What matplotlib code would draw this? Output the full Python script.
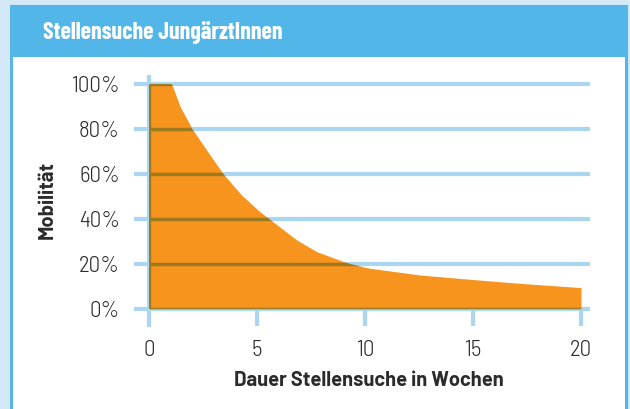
import matplotlib
matplotlib.use("Agg")
import matplotlib.pyplot as plt
from matplotlib.patches import Rectangle

# Data
weeks = [0, 1.05, 1.44, 2.0, 2.75, 3.44, 4.3, 5.14, 5.57, 6.84, 7.76, 9.31, 10.23,
         12.55, 14.86, 17.18, 20]
mobility = [100, 100, 90, 80, 69.5, 60, 50.5, 43.2, 40, 30.7, 25.5, 20, 18.1,
            15.1, 13.2, 11.4, 9.5]
x_ticks = [0, 5, 10, 15, 20]
y_ticks = [0, 20, 40, 60, 80, 100]
y_labels = ["0%", "20%", "40%", "60%", "80%", "100%"]
title = "Stellensuche JungärztInnen"
x_label = "Dauer Stellensuche in Wochen"
y_label = "Mobilität"

W, H = 630, 409
BG = "#d4e9f8"
BAR = "#52b7e8"
GRID = "#aad6f2"
ORANGE = "#f7941d"
DARK = "#9e7a1f"
TXT = "#2b2b2b"

fig = plt.figure(figsize=(W / 100, H / 100), dpi=100, facecolor=BG)

def px_rect(x0, y0, x1, y1, color, z):
    fig.patches.append(Rectangle((x0 / W, 1 - y1 / H), (x1 - x0) / W, (y1 - y0) / H,
                                 transform=fig.transFigure, facecolor=color,
                                 edgecolor="none", zorder=z))

px_rect(10, 5, 628, 409, BAR, -2)
px_rect(13, 57, 625, 409, "white", -1)

fig.text(43 / W, 1 - 32 / H, title, color="white", fontsize=17.2, fontweight=700,
         family=["Barlow Condensed", "DejaVu Sans"], va="center", ha="left")

# axes spanning grid extents: x from 134 to 590 px, y from 75 to 327 px
ax_l, ax_r, ax_t, ax_b = 134, 590, 75, 327
ax = fig.add_axes([ax_l / W, 1 - ax_b / H, (ax_r - ax_l) / W, (ax_b - ax_t) / H])
ax.set_zorder(5)
ax.set_facecolor("none")
xmin = -(149 - 134) / 21.6
xmax = 20 + (590 - 581) / 21.6
ax.set_xlim(xmin, xmax)
ax.set_ylim(-8, 104)
for s in ax.spines.values():
    s.set_visible(False)

# grid lines and axis line (under fill)
ax.hlines(y_ticks, xmin, xmax, colors=GRID, lw=3, zorder=1)
ax.vlines([0], -8, 104, colors=GRID, lw=3, zorder=1)
ax.vlines(x_ticks[1:], -7.6, 0, colors=GRID, lw=3, zorder=1)

fill = ax.fill_between(weeks, mobility, 0, color=ORANGE, lw=0, zorder=2)
clip_path = fill.get_paths()[0]
h = ax.hlines(y_ticks, xmin, xmax, colors=DARK, lw=2.5, zorder=3)
h.set_clip_path(clip_path, fill.get_transform())
v = ax.vlines([0], -8, 104, colors=DARK, lw=2.5, zorder=3)
v.set_clip_path(clip_path, fill.get_transform())

tick_font = ["Barlow Semi Condensed", "DejaVu Sans"]
ax.set_xticks(x_ticks)
ax.set_xticklabels([str(t) for t in x_ticks], family=tick_font, fontsize=16.5,
                   fontweight=300, color=TXT)
ax.set_yticks(y_ticks)
ax.set_yticklabels(y_labels, family=tick_font, fontsize=16.5, fontweight=300, color=TXT)
ax.tick_params(axis="both", length=0)
ax.tick_params(axis="x", pad=9)
ax.tick_params(axis="y", pad=10)

lab_font = ["Barlow", "DejaVu Sans"]
ax.set_xlabel(x_label, family=lab_font, fontweight=700, fontsize=14.5, color=TXT)
ax.xaxis.set_label_coords((369 - ax_l) / (ax_r - ax_l), 1 - (386 - ax_t) / (ax_b - ax_t))
ax.xaxis.label.set_va("baseline")
ax.set_ylabel(y_label, family=lab_font, fontweight=700, fontsize=14.5, color=TXT)
ax.yaxis.set_label_coords((47 - ax_l) / (ax_r - ax_l), 1 - (200 - ax_t) / (ax_b - ax_t))
ax.yaxis.label.set_va("center")

fig.savefig("out.png", dpi=100, facecolor=BG)
